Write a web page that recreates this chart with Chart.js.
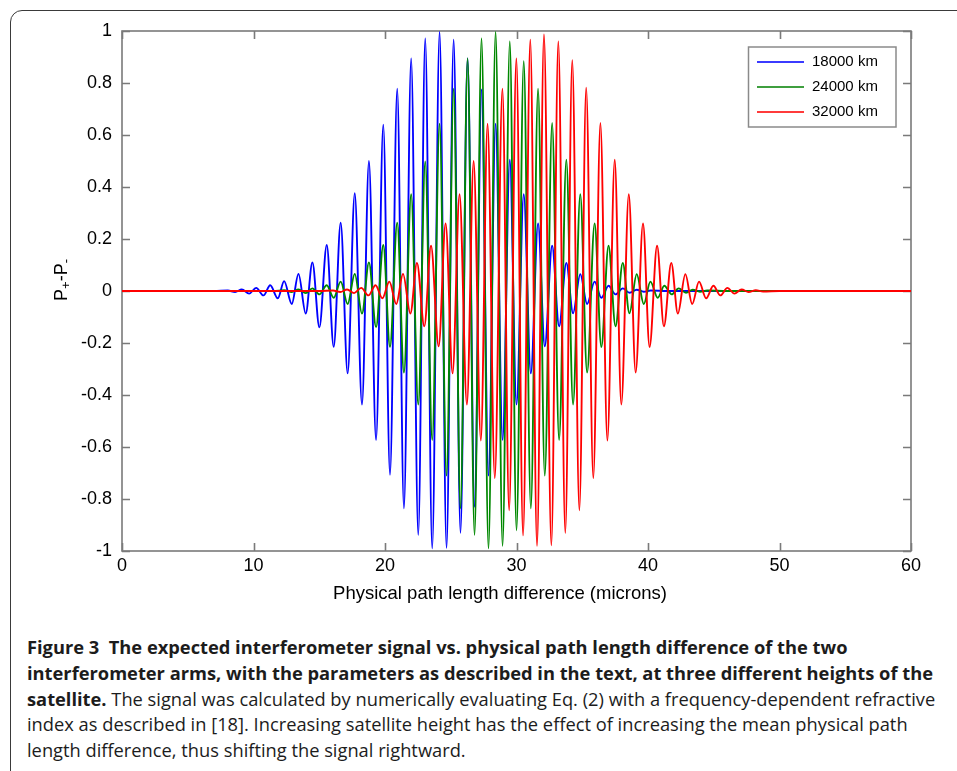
<!DOCTYPE html>
<html>
<head>
<meta charset="utf-8">
<script src="https://cdn.jsdelivr.net/npm/chart.js@4.4.0/dist/chart.umd.min.js"></script>
<style>
  html, body { margin: 0; padding: 0; background: #fff; }
  body { width: 957px; height: 771px; overflow: hidden; position: relative; }
  #frame { position: absolute; left: 10px; top: 10px; width: 1000px; height: 800px;
           border: 1.5px solid #3a3a3a; border-radius: 12px; box-sizing: border-box; }
  #chart { position: absolute; left: 0; top: 0; }
  #caption { position: absolute; left: 27px; top: 634px; font-family: "Open Sans", "Noto Sans", sans-serif;
             color: #1c1c1c; line-height: 25.8px; white-space: nowrap; font-size: 17px; }
  #caption b { font-weight: 700; }
</style>
</head>
<body>
<div id="frame"></div>
<canvas id="chart" width="957" height="612"></canvas>
<div id="caption">
  <div><span id="capLine1"><b>Figure 3&nbsp; The expected interferometer signal vs. physical path length difference of the two</b></span></div>
  <div><b>interferometer arms, with the parameters as described in the text, at three different heights of the</b></div>
  <div><b>satellite.</b> The signal was calculated by numerically evaluating Eq. (2) with a frequency-dependent refractive</div>
  <div>index as described in [18]. Increasing satellite height has the effect of increasing the mean physical path</div>
  <div>length difference, thus shifting the signal rightward.</div>
</div>
<script>
// ticks de los ejes
const xTicks = [0, 10, 20, 30, 40, 50, 60];
const yTicks = [-1, -0.8, -0.6, -0.4, -0.2, 0, 0.2, 0.4, 0.6, 0.8, 1];
const seriesLabels = ["18000 km", "24000 km", "32000 km"];
const xTitle = "Physical path length difference (microns)";

// 18000 km: picos y valles
const blueX = [0, 7.0, 8.05, 8.6, 9.11, 9.67, 10.2, 10.76, 11.27, 11.85, 12.33, 12.91, 13.42, 13.97, 14.48,
  15.01, 15.57, 16.10, 16.63, 17.16, 17.70, 18.25, 18.78, 19.32, 19.87, 20.38, 20.93, 21.44, 21.99, 22.53,
  23.06, 23.59, 24.15, 24.68, 25.22, 25.74, 26.28, 26.81, 27.34, 27.87, 28.41, 28.94, 29.49, 30.0, 30.55,
  31.09, 31.64, 32.15, 32.71, 33.24, 33.79, 34.3, 34.85, 35.37, 35.94, 36.45, 37.0, 37.53, 38.08, 38.6,
  39.14, 39.68, 40.2, 41.5, 60];
const blueY = [0, 0, 0.002, -0.004, 0.006, -0.01, 0.012, -0.017, 0.022, -0.028, 0.038, -0.05, 0.066, -0.087, 0.11,
  -0.14, 0.177, -0.215, 0.263, -0.317, 0.376, -0.437, 0.50, -0.573, 0.64, -0.707, 0.778, -0.836, 0.894, -0.938,
  0.971, -0.99, 0.996, -0.988, 0.967, -0.93, 0.894, -0.83, 0.775, -0.71, 0.643, -0.573, 0.505, -0.437, 0.372,
  -0.317, 0.26, -0.213, 0.174, -0.136, 0.108, -0.086, 0.065, -0.05, 0.036, -0.026, 0.02, -0.013, 0.01, -0.007,
  0.005, -0.003, 0.002, 0, 0];

// 24000 km
const greenX = [0, 11.5, 12.33, 12.91, 13.42, 13.97, 14.48, 15.01, 15.57, 16.10, 16.63, 17.16, 17.70, 18.25, 18.78,
  19.32, 19.87, 20.38, 20.93, 21.44, 21.99, 22.53, 23.06, 23.59, 24.15, 24.68, 25.22, 25.74, 26.28, 26.81,
  27.34, 27.87, 28.41, 28.94, 29.49, 30.0, 30.55, 31.09, 31.64, 32.15, 32.71, 33.24, 33.79, 34.3, 34.85,
  35.37, 35.94, 36.45, 37.0, 37.53, 38.08, 38.59, 39.14, 39.68, 40.18, 40.74, 41.24, 41.8, 42.33, 42.89,
  43.4, 43.95, 44.5, 46, 60];
const greenY = [0, 0, 0.003, -0.004, 0.006, -0.008, 0.01, -0.013, 0.022, -0.026, 0.036, -0.05, 0.066, -0.087, 0.11,
  -0.139, 0.177, -0.215, 0.263, -0.314, 0.372, -0.437, 0.498, -0.573, 0.643, -0.71, 0.778, -0.836, 0.894, -0.938,
  0.971, -0.99, 0.996, -0.98, 0.96, -0.92, 0.884, -0.836, 0.778, -0.71, 0.646, -0.573, 0.505, -0.437, 0.372,
  -0.314, 0.26, -0.215, 0.174, -0.136, 0.108, -0.086, 0.065, -0.05, 0.036, -0.026, 0.02, -0.013, 0.01, -0.007,
  0.005, -0.003, 0.002, 0, 0];

// 32000 km
const redX = [0, 15, 16.05, 16.6, 17.12, 17.65, 18.19, 18.74, 19.28, 19.8, 20.33, 20.86, 21.37, 21.93, 22.43,
  22.99, 23.5, 24.08, 24.61, 25.14, 25.67, 26.23, 26.74, 27.29, 27.8, 28.35, 28.93, 29.44, 29.99, 30.5,
  31.05, 31.56, 32.09, 32.65, 33.18, 33.71, 34.24, 34.78, 35.30, 35.84, 36.38, 36.91, 37.47, 37.97, 38.54,
  39.06, 39.62, 40.12, 40.69, 41.21, 41.77, 42.27, 42.84, 43.36, 43.88, 44.42, 44.97, 45.5, 46.04, 46.57,
  47.12, 47.65, 48.2, 48.75, 50, 60];
const redY = [0, 0, 0.002, -0.004, 0.006, -0.008, 0.012, -0.017, 0.022, -0.028, 0.036, -0.05, 0.066, -0.087, 0.108,
  -0.136, 0.174, -0.213, 0.26, -0.317, 0.372, -0.437, 0.50, -0.575, 0.643, -0.72, 0.778, -0.843, 0.894, -0.94,
  0.967, -0.98, 0.987, -0.978, 0.96, -0.93, 0.888, -0.843, 0.782, -0.72, 0.646, -0.575, 0.505, -0.437, 0.372,
  -0.314, 0.26, -0.215, 0.174, -0.136, 0.108, -0.087, 0.065, -0.05, 0.036, -0.028, 0.02, -0.017, 0.012, -0.01,
  0.006, -0.004, 0.003, -0.002, 0, 0];

const colors = ["#0000ff", "#008800", "#ff0000"];
const legendColors = ["#3b3bff", "#3f9f3f", "#ff3b3b"];
const AXIS = "#7a7a7a";
const FONT = "'Liberation Sans', Arial, sans-serif";

function toPoints(xs, ys) {
  return xs.map(function (x, i) { return { x: x, y: ys[i] }; });
}

// caja, ticks interiores, titulos y leyenda
const framePlugin = {
  id: "frame",
  beforeDatasetsDraw(chart) {
    const ctx = chart.ctx, a = chart.chartArea, sx = chart.scales.x, sy = chart.scales.y;
    ctx.save();
    ctx.strokeStyle = AXIS;
    ctx.lineWidth = 1.6;
    ctx.strokeRect(a.left, a.top, a.right - a.left, a.bottom - a.top);
    ctx.beginPath();
    xTicks.forEach(function (v) {
      const px = Math.round(sx.getPixelForValue(v)) + 0.5;
      ctx.moveTo(px, a.bottom); ctx.lineTo(px, a.bottom - 8);
      ctx.moveTo(px, a.top); ctx.lineTo(px, a.top + 8);
    });
    yTicks.forEach(function (v) {
      const py = Math.round(sy.getPixelForValue(v)) + 0.5;
      ctx.moveTo(a.left, py); ctx.lineTo(a.left + 8, py);
      ctx.moveTo(a.right, py); ctx.lineTo(a.right - 8, py);
    });
    ctx.stroke();
    ctx.restore();
  },
  afterDraw(chart) {
    const ctx = chart.ctx;
    ctx.save();
    // titulo eje x
    ctx.fillStyle = "#000";
    ctx.font = "18.5px " + FONT;
    ctx.textAlign = "center";
    ctx.textBaseline = "middle";
    ctx.fillText(xTitle, 500, 594);

    // titulo eje y: P+-P- con subindices
    ctx.translate(62, 280);
    ctx.rotate(-Math.PI / 2);
    const parts = [["P", false], ["+", true], ["-P", false], ["-", true]];
    const big = "18px " + FONT, small = "13px " + FONT;
    let w = 0;
    parts.forEach(function (p) { ctx.font = p[1] ? small : big; w += ctx.measureText(p[0]).width; });
    let cx = -w / 2;
    ctx.textAlign = "left";
    parts.forEach(function (p) {
      ctx.font = p[1] ? small : big;
      ctx.fillText(p[0], cx, p[1] ? 4 : 0);
      cx += ctx.measureText(p[0]).width;
    });
    ctx.restore();

    // leyenda
    ctx.save();
    ctx.fillStyle = "#fff";
    ctx.fillRect(748.5, 47, 147.5, 80);
    ctx.strokeStyle = "#8a8a8a";
    ctx.lineWidth = 1.5;
    ctx.strokeRect(748.5, 47, 147.5, 80);
    ctx.font = "15px " + FONT;
    ctx.textBaseline = "middle";
    seriesLabels.forEach(function (lab, i) {
      const y = 62 + i * 25;
      ctx.strokeStyle = legendColors[i];
      ctx.lineWidth = 2;
      ctx.beginPath(); ctx.moveTo(757, y); ctx.lineTo(804, y); ctx.stroke();
      ctx.fillStyle = "#000";
      ctx.fillText(lab, 812, y);
    });
    ctx.restore();
  }
};

const ctx = document.getElementById("chart").getContext("2d");
new Chart(ctx, {
  type: "line",
  data: {
    datasets: [
      { label: seriesLabels[0], data: toPoints(blueX, blueY), borderColor: colors[0], order: 3 },
      { label: seriesLabels[1], data: toPoints(greenX, greenY), borderColor: colors[1], order: 2 },
      { label: seriesLabels[2], data: toPoints(redX, redY), borderColor: colors[2], order: 1 }
    ]
  },
  options: {
    responsive: false,
    animation: false,
    parsing: false,
    elements: {
      point: { radius: 0 },
      line: { borderWidth: 1.9, cubicInterpolationMode: "monotone", fill: false }
    },
    layout: { padding: { top: 31, right: 46, left: 0, bottom: 0 } },
    plugins: { legend: { display: false }, tooltip: { enabled: false } },
    scales: {
      x: {
        type: "linear", min: 0, max: 60,
        grid: { display: false, drawTicks: false },
        border: { display: false },
        afterBuildTicks: function (s) { s.ticks = xTicks.map(function (v) { return { value: v }; }); },
        afterFit: function (s) { s.height = 612 - 551; },
        ticks: { font: { family: FONT, size: 18 }, color: "#000", padding: 4, maxRotation: 0, autoSkip: false,
                 callback: function (v) { return String(v); } }
      },
      y: {
        type: "linear", min: -1, max: 1,
        grid: { display: false, drawTicks: false },
        border: { display: false },
        afterBuildTicks: function (s) { s.ticks = yTicks.map(function (v) { return { value: v }; }); },
        afterFit: function (s) { s.width = 122; },
        ticks: { font: { family: FONT, size: 18 }, color: "#000", padding: 10, autoSkip: false,
                 callback: function (v) { return String(Math.round(v * 10) / 10); } }
      }
    }
  },
  plugins: [framePlugin]
});

// ajustar el tamaño del texto del pie al ancho de la figura
const line1 = document.getElementById("capLine1");
const w1 = line1.getBoundingClientRect().width;
document.getElementById("caption").style.fontSize = (17 * 821 / w1).toFixed(2) + "px";
</script>
</body>
</html>
